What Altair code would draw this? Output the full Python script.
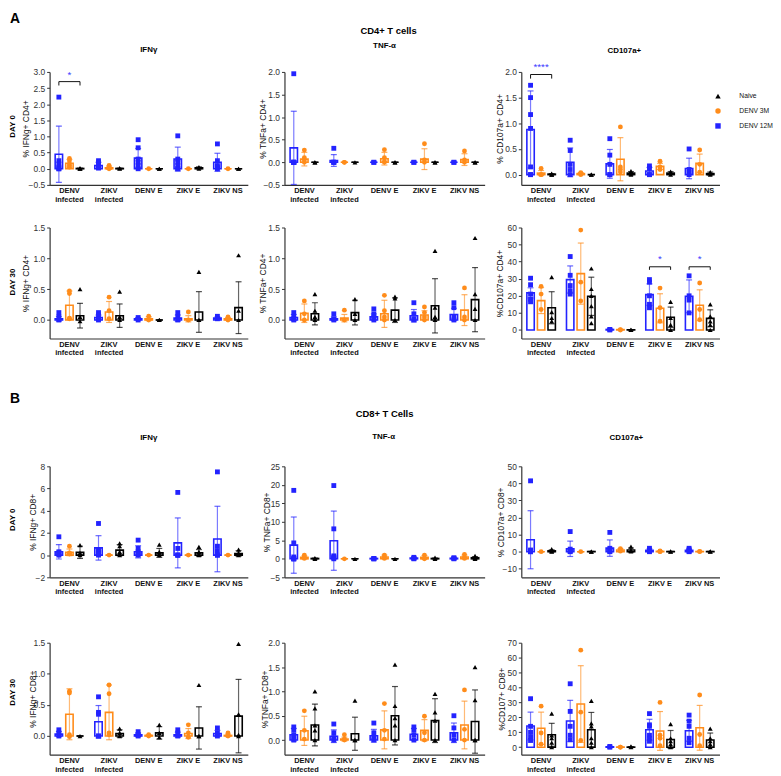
import altair as alt
import pandas as pd

GROUPS = ["DENV infected", "ZIKV infected", "DENV E", "ZIKV E", "ZIKV NS"]
SERIES = ["DENV 12M", "DENV 3M", "Naive"]            # order of bars inside a group
LEGEND_ORDER = ["Naive", "DENV 3M", "DENV 12M"]
LEGEND_COLORS = ["#000000", "#ff8c1a", "#2323ff"]
LEGEND_SHAPES = ["triangle-up", "circle", "square"]

# ---- values: per group (DENV 12M, DENV 3M, Naive) ----
A_D0_IFN_MEAN = [0.45, 0.17, 0.01, 0.10, 0.03, 0.01, 0.33, 0.0, 0.0, 0.30, 0.0, 0.03, 0.20, 0.0, 0.0]
A_D0_IFN_SD = [0.87, 0.12, 0.01, 0.10, 0.05, 0.01, 0.30, 0.0, 0.0, 0.37, 0.0, 0.03, 0.28, 0.0, 0.0]
A_D0_IFN_PTS = [[2.22, 0.25, 0.15, 0.05, 0.0, 0.0], [0.32, 0.25, 0.15, 0.10, 0.05], [0.02, 0.0, 0.0],
                [0.25, 0.20, 0.10, 0.05, 0.02], [0.10, 0.05, 0.0], [0.02, 0.0],
                [0.90, 0.65, 0.30, 0.20, 0.10, 0.0], [0.0], [0.0, 0.0],
                [1.02, 0.30, 0.20, 0.10, 0.0, 0.0], [0.0], [0.05, 0.0],
                [0.77, 0.25, 0.10, 0.05, 0.0], [0.0], [0.0, 0.0]]

A_D0_TNF_MEAN = [0.32, 0.07, 0.0, 0.04, 0.0, 0.0, 0.0, 0.08, 0.0, 0.0, 0.07, 0.0, 0.0, 0.06, 0.0]
A_D0_TNF_SD = [0.81, 0.15, 0.0, 0.13, 0.0, 0.0, 0.0, 0.14, 0.0, 0.0, 0.23, 0.0, 0.0, 0.13, 0.0]
A_D0_TNF_PTS = [[1.96, 0.0, 0.0, 0.0, 0.0, 0.0], [0.27, 0.10, 0.05, 0.0], [0.0, 0.0],
                [0.31, 0.0, 0.0, 0.0], [0.0, 0.0], [0.0],
                [0.0, 0.0], [0.28, 0.10, 0.02, 0.0], [0.0, 0.0],
                [0.0, 0.0], [0.41, 0.05, 0.0], [0.0, 0.0],
                [0.0, 0.0], [0.25, 0.05, 0.0], [0.0, 0.0]]

A_D0_CD107_MEAN = [0.88, 0.03, 0.01, 0.24, 0.02, 0.0, 0.21, 0.30, 0.03, 0.07, 0.16, 0.03, 0.12, 0.22, 0.02]
A_D0_CD107_SD = [0.75, 0.05, 0.01, 0.28, 0.02, 0.0, 0.28, 0.42, 0.03, 0.07, 0.06, 0.03, 0.20, 0.18, 0.03]
A_D0_CD107_PTS = [[1.74, 1.50, 1.17, 0.90, 0.15, 0.0, 0.0], [0.12, 0.0, 0.0], [0.02, 0.0, 0.0],
                  [0.67, 0.47, 0.20, 0.10, 0.0], [0.04, 0.02, 0.0], [0.0, 0.0],
                  [0.70, 0.38, 0.20, 0.0, 0.0], [0.93, 0.15, 0.10, 0.05], [0.07, 0.02, 0.0],
                  [0.17, 0.12, 0.0, 0.0], [0.26, 0.15, 0.10], [0.06, 0.0],
                  [0.50, 0.10, 0.05, 0.0], [0.48, 0.20, 0.05], [0.05, 0.0]]

A_D30_IFN_MEAN = [0.02, 0.24, 0.07, 0.04, 0.13, 0.07, 0.02, 0.02, 0.0, 0.03, 0.02, 0.13, 0.03, 0.02, 0.20]
A_D30_IFN_SD = [0.04, 0.23, 0.20, 0.04, 0.17, 0.19, 0.02, 0.03, 0.0, 0.05, 0.05, 0.33, 0.02, 0.02, 0.42]
A_D30_IFN_PTS = [[0.12, 0.05, 0.0], [0.47, 0.43, 0.03, 0.02], [0.50, 0.05, -0.02],
                 [0.12, 0.08, 0.02, 0.0], [0.37, 0.15, 0.02], [0.46, 0.05, 0.0],
                 [0.04, 0.0], [0.06, 0.0], [0.0, 0.0],
                 [0.12, 0.05, 0.0], [0.13, 0.0], [0.78, 0.0, 0.0],
                 [0.06, 0.02], [0.05, 0.0], [1.05, 0.15, 0.0]]

A_D30_TNF_MEAN = [0.04, 0.11, 0.10, 0.02, 0.03, 0.12, 0.05, 0.10, 0.16, 0.07, 0.08, 0.23, 0.09, 0.16, 0.33]
A_D30_TNF_SD = [0.05, 0.15, 0.18, 0.03, 0.06, 0.20, 0.05, 0.22, 0.20, 0.10, 0.07, 0.44, 0.10, 0.25, 0.52]
A_D30_TNF_PTS = [[0.12, 0.05, 0.02, 0.0], [0.31, 0.10, 0.0], [0.42, 0.15, 0.05, 0.0],
                 [0.10, 0.02, 0.0], [0.16, 0.0], [0.34, 0.10, 0.0],
                 [0.18, 0.10, 0.05, 0.0], [0.40, 0.15, 0.05, 0.0], [0.38, 0.35, 0.0],
                 [0.28, 0.10, 0.02, 0.0], [0.21, 0.12, 0.05, 0.0], [1.12, 0.20, 0.05, 0.0],
                 [0.28, 0.20, 0.05, 0.0], [0.52, 0.05, 0.0], [1.33, 0.42, 0.18, 0.0]]

A_D30_CD107_MEAN = [21.7, 17.2, 13.0, 29.5, 33.0, 19.7, 0.3, 0.2, 0.1, 20.7, 12.7, 7.4, 19.7, 14.5, 6.8]
A_D30_CD107_SD = [3.0, 7.6, 9.4, 8.0, 17.9, 11.2, 0.2, 0.1, 0.1, 6.3, 8.5, 6.0, 9.6, 9.0, 5.0]
A_D30_CD107_PTS = [[30.3, 26.5, 21.0, 18.0, 16.5], [25.5, 21.0, 12.0], [31.0, 10.5, 7.0, 5.0],
                   [43.0, 32.0, 26.0, 23.0, 21.0], [58.5, 28.0, 17.0], [36.0, 24.0, 20.0, 14.0, 8.0, 4.0],
                   [0.3, 0.0], [0.2, 0.0], [0.1, 0.0],
                   [29.5, 28.0, 20.0, 15.0, 13.0], [24.5, 13.0, 5.1], [16.5, 7.0, 3.0, 0.0],
                   [31.7, 20.0, 17.5, 10.0], [27.5, 12.0, 6.0], [15.0, 8.0, 5.0, 3.0, 0.0]]

B_D0_IFN_MEAN = [0.30, 0.25, 0.25, 0.65, 0.0, 0.45, 0.30, 0.0, 0.20, 1.10, 0.0, 0.20, 1.45, 0.0, 0.15]
B_D0_IFN_SD = [0.65, 0.30, 0.55, 1.10, 0.0, 0.50, 0.55, 0.0, 0.40, 2.25, 0.0, 0.30, 2.95, 0.0, 0.25]
B_D0_IFN_PTS = [[1.65, 0.30, 0.20, 0.10, 0.0], [0.80, 0.20, 0.15, 0.10], [0.90, 0.20, 0.0],
                [2.85, 0.50, 0.30, 0.10, 0.0], [0.0], [1.05, 0.80, 0.30, 0.10, 0.0],
                [1.35, 0.60, 0.30, 0.10, 0.0], [0.0], [0.95, 0.30, 0.10, 0.0],
                [5.65, 0.60, 0.0, 0.0, 0.0], [0.0], [0.75, 0.30, 0.10, 0.0],
                [7.50, 0.80, 0.40, 0.0, 0.0], [0.0], [0.50, 0.20, 0.0]]

B_D0_TNF_MEAN = [3.7, 0.4, 0.1, 4.9, 0.0, 0.0, 0.1, 0.5, 0.0, 0.2, 0.4, 0.1, 0.15, 0.5, 0.3]
B_D0_TNF_SD = [7.6, 0.4, 0.1, 8.0, 0.0, 0.0, 0.1, 0.5, 0.0, 0.2, 0.5, 0.1, 0.15, 0.5, 0.3]
B_D0_TNF_PTS = [[18.5, 4.3, 0.5, 0.0, 0.0, 0.0], [1.0, 0.5, 0.1], [0.2, 0.0],
                [19.8, 8.1, 0.8, 0.5, 0.3, 0.0], [0.0], [0.0],
                [0.1, 0.0, 0.0], [1.0, 0.5, 0.1], [0.0],
                [0.4, 0.1, 0.0], [1.0, 0.2, 0.0], [0.3, 0.0],
                [0.3, 0.1, 0.0], [1.2, 0.4, 0.1], [0.8, 0.2, 0.0]]

B_D0_CD107_MEAN = [7.0, 0.0, 0.5, 1.7, 0.0, 0.1, 2.1, 1.0, 1.0, 0.8, 0.2, 0.1, 0.8, 0.1, 0.1]
B_D0_CD107_SD = [17.0, 0.0, 0.6, 4.5, 0.0, 0.1, 4.8, 0.8, 1.2, 0.8, 0.2, 0.1, 0.8, 0.1, 0.1]
B_D0_CD107_PTS = [[41.5, 1.0, 0.5, 0.2, 0.0, 0.0], [0.0], [1.5, 0.3, 0.0],
                  [11.8, 1.5, 0.8, 0.3, 0.0], [0.0], [0.1, 0.0],
                  [11.3, 2.0, 1.0, 0.3, 0.0], [1.8, 1.0, 0.3], [3.0, 0.8, 0.2],
                  [2.0, 1.0, 0.3, 0.0], [0.5, 0.1, 0.0], [0.2, 0.0],
                  [2.0, 1.2, 0.3, 0.0], [0.2, 0.0], [0.2, 0.0]]

B_D30_IFN_MEAN = [0.03, 0.35, 0.0, 0.23, 0.38, 0.04, 0.02, 0.01, 0.05, 0.02, 0.04, 0.13, 0.04, 0.01, 0.32]
B_D30_IFN_SD = [0.04, 0.41, 0.0, 0.26, 0.44, 0.06, 0.03, 0.01, 0.10, 0.04, 0.08, 0.34, 0.05, 0.02, 0.59]
B_D30_IFN_PTS = [[0.10, 0.05, 0.0], [0.72, 0.69, 0.02, -0.01], [0.0],
                 [0.63, 0.38, 0.35, 0.0, 0.0], [0.82, 0.68, 0.05, 0.02], [0.12, 0.05, 0.0],
                 [0.07, 0.02, 0.0], [0.02, 0.0], [0.18, 0.05, -0.02],
                 [0.10, 0.05, 0.0], [0.18, 0.05, -0.02], [0.82, 0.0, 0.0],
                 [0.13, 0.05, 0.0], [0.05, 0.0], [1.48, 0.35, 0.02, 0.0]]

B_D30_TNF_MEAN = [0.11, 0.19, 0.31, 0.08, 0.02, 0.13, 0.09, 0.21, 0.50, 0.12, 0.20, 0.40, 0.15, 0.31, 0.38]
B_D30_TNF_SD = [0.13, 0.30, 0.43, 0.13, 0.04, 0.34, 0.13, 0.39, 0.60, 0.12, 0.22, 0.45, 0.20, 0.49, 0.65]
B_D30_TNF_PTS = [[0.27, 0.20, 0.10, 0.05, 0.0], [0.60, 0.20, 0.02], [1.00, 0.65, 0.30, 0.20, 0.0],
                 [0.33, 0.15, 0.05, 0.0], [0.11, 0.02, 0.0], [0.81, 0.0, 0.0],
                 [0.35, 0.15, 0.05, 0.0], [0.75, 0.20, 0.02], [1.55, 0.70, 0.45, 0.30, 0.0],
                 [0.27, 0.20, 0.10, 0.0], [0.49, 0.15, 0.0], [0.95, 0.57, 0.40, 0.0],
                 [0.50, 0.25, 0.10, 0.0], [1.03, 0.22, 0.0], [1.50, 0.82, 0.0, 0.0]]

B_D30_CD107_MEAN = [14.2, 12.7, 8.3, 17.6, 28.9, 11.7, 0.3, 0.1, 0.1, 11.7, 10.9, 5.2, 11.0, 13.0, 4.8]
B_D30_CD107_SD = [9.3, 10.8, 7.7, 13.8, 25.7, 11.6, 0.2, 0.1, 0.2, 7.0, 13.0, 6.0, 7.0, 15.0, 4.7]
B_D30_CD107_PTS = [[32.5, 14.0, 10.0, 7.0, 4.5], [27.5, 9.5, 2.0], [22.5, 8.0, 6.0, 3.0, 0.0],
                   [42.5, 24.0, 14.0, 8.0, 5.0], [65.0, 23.5, 4.5], [31.0, 16.0, 14.0, 6.0, 3.0, 0.0],
                   [0.5, 0.0], [0.1, 0.0], [0.5, 0.0],
                   [22.5, 15.0, 14.0, 8.0, 6.0, 4.0], [30.0, 8.0, 6.0, 1.0], [15.5, 6.0, 4.0, 2.0, 0.0],
                   [21.5, 17.5, 14.0, 6.0, 3.0], [35.0, 8.5, 1.0], [12.5, 6.0, 4.0, 2.0, 0.0]]

# y axes: domain, tick values, format, title
Y_DOMAINS = [[-0.5, 3.0], [-0.5, 2.0], [-0.2, 2.0],
             [-0.3, 1.5], [-0.3, 1.5], [-5, 60],
             [-2, 8], [-5, 25], [-15, 50],
             [-0.3, 1.5], [-0.3, 2.0], [-5, 70]]
Y_TICKS = [[-0.5, 0, 0.5, 1, 1.5, 2, 2.5, 3], [-0.5, 0, 0.5, 1, 1.5, 2], [0, 0.5, 1, 1.5, 2],
           [0, 0.5, 1, 1.5], [0, 0.5, 1, 1.5], [0, 10, 20, 30, 40, 50, 60],
           [-2, 0, 2, 4, 6, 8], [-5, 0, 5, 10, 15, 20, 25], [-10, 0, 10, 20, 30, 40, 50],
           [0, 0.5, 1, 1.5], [0, 0.5, 1, 1.5, 2], [0, 10, 20, 30, 40, 50, 60, 70]]
Y_FORMATS = [".1f", ".1f", ".1f", ".1f", ".1f", "d", "d", "d", "d", ".1f", ".1f", "d"]
Y_TITLES = ["% IFNg+ CD4+", "% TNFa+ CD4+", "% CD107a+ CD4+",
            "% IFNg+ CD4+", "% TNFa+ CD4+", "%CD107a+ CD4+",
            "% IFNg+ CD8+", "% TNFa+ CD8+", "% CD107a+ CD8+",
            "% IFNg+ CD8+", "%TNFa+ CD8+", "%CD107+ CD8+"]
Y_TITLE_X = [-24, -22, -22, -24, -22, -22, -17, -18, -21, -17, -20, -20]

# significance brackets: panel index, group, line level, tip level, star level, label
SIG_PANEL = [0, 2, 5, 5]
SIG_GROUP = ["DENV infected", "DENV infected", "ZIKV E", "ZIKV NS"]
SIG_LINE = [2.70, 1.95, 37.0, 37.0]
SIG_TIP = [2.58, 1.87, 35.2, 35.2]
SIG_STAR = [2.76, 2.00, 38.5, 38.5]
SIG_TEXT = ["*", "****", "*", "*"]

PANEL_DATA = [(A_D0_IFN_MEAN, A_D0_IFN_SD, A_D0_IFN_PTS), (A_D0_TNF_MEAN, A_D0_TNF_SD, A_D0_TNF_PTS),
              (A_D0_CD107_MEAN, A_D0_CD107_SD, A_D0_CD107_PTS),
              (A_D30_IFN_MEAN, A_D30_IFN_SD, A_D30_IFN_PTS), (A_D30_TNF_MEAN, A_D30_TNF_SD, A_D30_TNF_PTS),
              (A_D30_CD107_MEAN, A_D30_CD107_SD, A_D30_CD107_PTS),
              (B_D0_IFN_MEAN, B_D0_IFN_SD, B_D0_IFN_PTS), (B_D0_TNF_MEAN, B_D0_TNF_SD, B_D0_TNF_PTS),
              (B_D0_CD107_MEAN, B_D0_CD107_SD, B_D0_CD107_PTS),
              (B_D30_IFN_MEAN, B_D30_IFN_SD, B_D30_IFN_PTS), (B_D30_TNF_MEAN, B_D30_TNF_SD, B_D30_TNF_PTS),
              (B_D30_CD107_MEAN, B_D30_CD107_SD, B_D30_CD107_PTS)]

# ---- layout ----
FONT = "Liberation Sans"
COL_W = [200, 202, 200]
ROW_H = [114, 112, 198, 136]
ROW_EXTRA = [0, 0, 86, 23]   # empty band above the plot area inside a cell

# text annotations: panel, text, x, y, size, weight, angle, align, baseline
ANNOT = [
    (0, "A", -40, -60, 14, "bold", 0, "left", "top"),
    (0, "IFNγ", 100, -22, 8, "bold", 0, "center", "middle"),
    (0, "DAY 0", -37, 55, 8, "bold", 270, "center", "middle"),
    (1, "CD4+ T cells", 105, -41, 9.5, "bold", 0, "center", "middle"),
    (1, "TNF-α", 101, -26, 8, "bold", 0, "center", "middle"),
    (2, "CD107a+", 104, -21, 8, "bold", 0, "center", "middle"),
    (3, "DAY 30", -37, 55, 8, "bold", 270, "center", "middle"),
    (6, "B", -40, 11, 14, "bold", 0, "left", "top"),
    (6, "IFNγ", 100, 57, 8, "bold", 0, "center", "middle"),
    (6, "DAY 0", -37, 140, 8, "bold", 270, "center", "middle"),
    (7, "CD8+ T Cells", 101, 33, 9.5, "bold", 0, "center", "middle"),
    (7, "TNF-α", 100, 56, 8, "bold", 0, "center", "middle"),
    (8, "CD107a+", 106, 57, 8, "bold", 0, "center", "middle"),
    (9, "DAY 30", -37, 73, 8, "bold", 270, "center", "middle"),
]


def tables(mean, sd, pts):
    rows, prow = [], []
    k = 0
    for g in GROUPS:
        for s in SERIES:
            m, d = mean[k], sd[k]
            rows.append({"group": g, "series": s, "mean": m, "lo": m - d, "hi": m + d})
            for v in pts[k]:
                prow.append({"group": g, "series": s, "value": v})
            k += 1
    return pd.DataFrame(rows), pd.DataFrame(prow)


color_scale = alt.Scale(domain=LEGEND_ORDER, range=LEGEND_COLORS)
shape_scale = alt.Scale(domain=LEGEND_ORDER, range=LEGEND_SHAPES)


def make_panel(i):
    row, col = divmod(i, 3)
    w, h, extra = COL_W[col], ROW_H[row], ROW_EXTRA[row]
    mean, sd, pts = PANEL_DATA[i]
    bars, points = tables(mean, sd, pts)

    xs = alt.Scale(domain=GROUPS, paddingInner=0.28, paddingOuter=0.14)
    xo = alt.Scale(domain=SERIES, paddingInner=0.3, paddingOuter=0)
    ys = alt.Scale(domain=Y_DOMAINS[i], range=[h, extra], nice=False, zero=False)

    xaxis = alt.Axis(title=None, labelAngle=0, labelFont=FONT, labelFontSize=7.5, labelFontWeight="bold",
                     labelColor="#111111", tickSize=0, labelPadding=2, labelLineHeight=8.5,
                     domainColor="#333333", domainWidth=1.2, labelBaseline="top",
                     labelOverlap=False,
                     labelExpr="indexof(datum.label, 'infected') >= 0 ? split(datum.label, ' ') : datum.label")
    yaxis = alt.Axis(title=Y_TITLES[i], values=Y_TICKS[i], format=Y_FORMATS[i], grid=False,
                     labelOverlap=False, labelFlush=False,
                     labelFont=FONT, labelFontSize=8.5, labelColor="#333333", tickSize=3,
                     tickColor="#333333", domainColor="#333333", domainWidth=1.2,
                     titleFont=FONT, titleFontSize=8.5, titleFontWeight="normal", titleColor="#111111",
                     titleX=Y_TITLE_X[i], titleY=(h + extra) / 2, titleAlign="center",
                     titleBaseline="middle", titleAngle=270)

    X = alt.X("group:N", scale=xs, axis=xaxis)
    XO = alt.XOffset("series:N", scale=xo)

    def Y(field):
        return alt.Y(field, scale=ys, axis=yaxis)

    nolegend_color = alt.Color("series:N", scale=color_scale, legend=None)

    bar = alt.Chart(bars).mark_bar(filled=False, strokeWidth=1.6).encode(
        x=X, xOffset=XO, y=Y("mean:Q"), color=nolegend_color)
    err = alt.Chart(bars).mark_rule(strokeWidth=1.2, opacity=0.6).encode(
        x=X, xOffset=XO, y=Y("lo:Q"), y2="hi:Q", color=nolegend_color)
    caps = alt.Chart(bars).transform_fold(["lo", "hi"], as_=["k", "v"]).mark_tick(
        orient="horizontal", size=6, thickness=1.2, opacity=0.7).encode(
        x=X, xOffset=XO, y=Y("v:Q"), color=nolegend_color)

    if i == 2:
        leg = alt.Legend(title=None, orient="none", legendX=195, legendY=21, padding=0,
                         labelFont=FONT, labelFontSize=6.8, labelColor="#111111", symbolSize=30,
                         rowPadding=7, labelOffset=18)
        pc = alt.Color("series:N", scale=color_scale, legend=leg)
        ps = alt.Shape("series:N", scale=shape_scale, legend=leg)
    else:
        pc = nolegend_color
        ps = alt.Shape("series:N", scale=shape_scale, legend=None)
    pt = alt.Chart(points).mark_point(filled=True, size=24, opacity=1).encode(
        x=X, xOffset=XO, y=Y("value:Q"), color=pc, shape=ps)

    layers = [bar, err, caps, pt]

    # significance brackets
    brk_rows, star_rows = [], []
    for j, p in enumerate(SIG_PANEL):
        if p != i:
            continue
        g = SIG_GROUP[j]
        brk_rows += [{"id": j, "o": 0, "group": g, "series": "DENV 12M", "y": SIG_TIP[j]},
                     {"id": j, "o": 1, "group": g, "series": "DENV 12M", "y": SIG_LINE[j]},
                     {"id": j, "o": 2, "group": g, "series": "Naive", "y": SIG_LINE[j]},
                     {"id": j, "o": 3, "group": g, "series": "Naive", "y": SIG_TIP[j]}]
        star_rows.append({"group": g, "series": "DENV 3M", "y": SIG_STAR[j], "t": SIG_TEXT[j]})
    if brk_rows:
        layers.append(alt.Chart(pd.DataFrame(brk_rows)).mark_line(color="#111111", strokeWidth=1).encode(
            x=X, xOffset=XO, y=Y("y:Q"), detail="id:N", order="o:Q"))
        layers.append(alt.Chart(pd.DataFrame(star_rows)).mark_text(
            color="#3b3bff", fontSize=10, font=FONT, baseline="bottom").encode(
            x=X, xOffset=XO, y=Y("y:Q"), text="t:N"))

    for (p, txt, tx, ty, size, weight, angle, align, baseline) in ANNOT:
        if p != i:
            continue
        layers.append(alt.Chart(pd.DataFrame({"t": [txt]})).mark_text(
            font=FONT, fontSize=size, fontWeight=weight, angle=angle, align=align,
            baseline=baseline, color="#000000").encode(
            text="t:N", x=alt.value(tx), y=alt.value(ty)))

    return alt.layer(*layers).resolve_legend(color="independent", shape="independent").properties(
        width=w, height=h)


panels = [make_panel(i) for i in range(12)]

chart = alt.concat(*panels, columns=3, spacing={"row": 43, "column": 37},
                   bounds="flush", align="each").resolve_legend(
    color="independent", shape="independent"
).properties(
    padding={"left": 1, "top": 1, "right": 0, "bottom": 1}
).configure(font=FONT).configure_view(strokeWidth=0)

chart.save("out.html", embed_options={"renderer": "svg", "actions": False})
